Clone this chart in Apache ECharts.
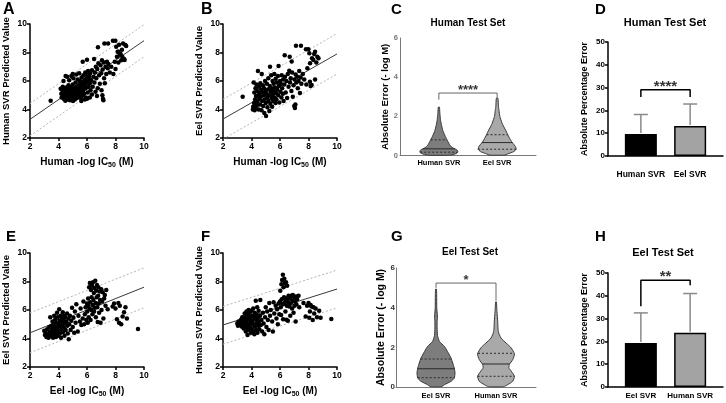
<!DOCTYPE html>
<html><head><meta charset="utf-8">
<script src="https://cdn.jsdelivr.net/npm/echarts@6/dist/echarts.min.js"></script>
<style>html,body{margin:0;padding:0;background:#fff}#c{width:726px;height:403px}</style>
</head><body><div id="c"></div>
<script>
const FF = '"Liberation Sans", Arial, sans-serif';

// ---------- scatter data ----------
const ptsA = [[3.45,4.62],[4.15,5.45],[4.2,5.1],[4.22,4.85],[4.28,5.3],[4.3,5.6],[4.33,4.95],[4.38,5.2],[4.4,4.72],[4.42,5.45],[4.45,5.05],[4.48,4.62],[4.5,5.3],[4.52,4.88],[4.55,5.55],[4.58,5.15],[4.6,4.7],[4.62,5.4],[4.65,4.95],[4.68,5.25],[4.7,5.7],[4.72,4.8],[4.75,5.1],[4.78,5.45],[4.8,4.65],[4.82,5.3],[4.85,4.95],[4.88,5.6],[4.9,5.15],[4.92,4.75],[4.95,5.4],[4.98,5.0],[5.0,5.75],[5.02,4.6],[5.05,5.25],[5.08,4.85],[5.1,5.5],[5.12,5.1],[5.15,4.7],[5.18,5.35],[5.2,5.9],[5.22,4.95],[5.25,5.6],[5.28,5.2],[5.3,4.8],[5.32,5.45],[5.35,6.1],[5.38,5.05],[5.4,5.7],[5.42,5.3],[5.45,4.9],[5.48,5.55],[5.5,6.0],[5.52,5.15],[5.55,5.8],[5.58,5.4],[5.6,4.75],[5.62,6.25],[5.65,5.6],[5.68,5.0],[5.7,5.9],[5.72,5.3],[5.75,6.4],[5.78,5.65],[5.8,5.1],[5.82,6.05],[5.85,5.45],[5.88,6.6],[5.9,5.8],[5.92,4.85],[5.95,6.2],[5.98,5.55],[6.0,6.45],[6.02,5.9],[6.05,5.2],[6.08,6.7],[6.1,6.1],[6.12,5.6],[6.15,6.3],[6.2,5.85],[6.22,6.55],[6.25,5.35],[6.3,6.05],[6.35,6.75],[6.4,5.6],[6.45,6.3],[6.5,7.55],[6.52,5.9],[6.55,6.6],[6.6,5.25],[6.62,7.0],[6.65,6.2],[6.7,4.95],[6.72,6.85],[6.75,5.5],[6.77,8.36],[6.8,7.25],[6.85,6.4],[6.9,5.8],[6.95,7.1],[7.0,6.55],[7.02,5.35],[7.05,7.45],[7.08,5.0],[7.1,6.8],[7.12,4.75],[7.15,4.65],[7.18,7.3],[7.2,6.2],[7.22,8.64],[7.25,5.85],[7.3,7.0],[7.35,6.5],[7.4,7.35],[7.45,6.9],[7.48,8.64],[7.5,7.2],[7.6,6.6],[7.7,7.0],[7.82,8.83],[7.85,6.5],[7.95,7.35],[7.99,8.83],[8.0,6.85],[8.05,8.4],[8.1,7.7],[8.15,8.05],[8.2,7.3],[8.22,8.06],[8.25,8.55],[8.3,7.85],[8.36,7.9],[8.4,7.45],[8.45,8.2],[8.48,7.71],[8.53,8.64],[8.6,7.55],[8.64,7.47],[8.69,8.53],[8.75,8.45],[4.35,6.0],[4.6,6.3],[4.75,6.05],[4.9,6.35],[5.05,6.2],[5.25,6.45],[5.45,6.55],[5.6,4.6],[5.85,4.7],[6.0,4.75],[6.2,4.85],[6.35,5.05],[4.5,6.35],[5.0,6.5],[5.7,7.35],[6.0,7.5]];
const ptsB = [[3.38,4.9],[4.1,4.0],[4.12,4.2],[4.15,5.9],[4.18,4.45],[4.2,5.2],[4.22,3.95],[4.25,4.7],[4.28,5.5],[4.3,4.1],[4.32,4.95],[4.35,5.75],[4.38,4.3],[4.4,5.3],[4.42,4.55],[4.45,6.7],[4.48,5.0],[4.5,4.0],[4.52,5.6],[4.55,4.75],[4.58,5.15],[4.6,4.35],[4.62,5.85],[4.65,4.9],[4.68,5.4],[4.7,3.95],[4.72,6.5],[4.75,4.6],[4.78,5.2],[4.8,5.7],[4.82,4.25],[4.85,5.0],[4.88,5.5],[4.9,3.75],[4.92,4.7],[4.95,6.0],[4.98,5.3],[5.0,4.45],[5.02,3.55],[5.05,5.1],[5.08,5.8],[5.1,4.85],[5.12,4.15],[5.15,5.4],[5.18,6.2],[5.2,4.6],[5.22,5.0],[5.25,3.9],[5.28,5.65],[5.3,7.0],[5.32,4.4],[5.35,5.25],[5.38,6.4],[5.4,4.8],[5.42,5.5],[5.45,4.2],[5.48,6.0],[5.5,5.05],[5.52,4.6],[5.55,5.8],[5.58,5.3],[5.6,6.5],[5.62,4.85],[5.65,5.55],[5.68,4.45],[5.7,6.15],[5.72,5.15],[5.75,4.7],[5.78,5.9],[5.8,5.4],[5.85,6.35],[5.88,5.0],[5.9,7.05],[5.92,5.65],[5.95,4.5],[6.0,6.0],[6.02,5.25],[6.05,5.8],[6.1,4.85],[6.12,6.4],[6.15,5.5],[6.2,5.1],[6.22,6.1],[6.25,4.6],[6.3,5.75],[6.33,7.8],[6.35,6.3],[6.4,5.2],[6.45,6.0],[6.5,4.8],[6.55,6.5],[6.6,5.6],[6.65,6.72],[6.68,7.7],[6.7,5.9],[6.75,6.2],[6.8,5.3],[6.82,7.36],[6.85,6.6],[6.9,4.9],[6.95,5.7],[7.0,4.25],[7.02,6.1],[7.05,4.1],[7.08,4.35],[7.1,6.45],[7.12,8.48],[7.15,5.9],[7.2,6.3],[7.25,5.5],[7.3,6.0],[7.35,6.7],[7.4,5.15],[7.45,6.25],[7.47,8.48],[7.5,5.8],[7.6,6.5],[7.7,6.1],[7.82,8.22],[7.85,5.75],[7.92,6.89],[7.99,8.22],[8.06,7.94],[8.1,5.95],[8.11,7.24],[8.15,5.65],[8.22,5.72],[8.25,7.6],[8.34,7.47],[8.4,7.9],[8.46,8.06],[8.46,6.1],[8.55,7.3],[8.62,7.71],[8.7,7.6]];
const ptsE = [[3.0,4.55],[3.05,4.25],[3.1,4.4],[3.15,4.1],[3.2,4.65],[3.25,4.3],[3.3,4.05],[3.35,4.8],[3.4,4.45],[3.42,5.5],[3.45,4.15],[3.5,4.9],[3.52,4.6],[3.55,4.3],[3.58,5.2],[3.6,4.75],[3.62,4.05],[3.65,5.0],[3.68,4.5],[3.7,5.6],[3.72,4.25],[3.75,4.85],[3.78,5.35],[3.8,4.6],[3.82,4.1],[3.85,5.1],[3.88,4.4],[3.9,5.8],[3.92,4.75],[3.95,5.5],[3.98,4.2],[4.0,5.0],[4.02,4.55],[4.05,6.05],[4.08,5.25],[4.1,4.35],[4.12,4.85],[4.15,5.6],[4.18,4.05],[4.2,5.15],[4.22,4.65],[4.25,5.45],[4.28,4.9],[4.3,5.85],[4.32,4.45],[4.35,5.3],[4.38,4.75],[4.4,5.6],[4.42,4.2],[4.45,5.05],[4.48,5.5],[4.5,4.6],[4.55,5.2],[4.6,5.75],[4.62,4.9],[4.65,4.35],[4.7,5.4],[4.72,3.95],[4.75,5.0],[4.8,5.6],[4.85,4.6],[4.9,5.25],[4.95,6.15],[5.0,4.8],[5.05,5.45],[5.1,4.4],[5.15,5.9],[5.2,5.1],[5.25,6.4],[5.35,4.5],[5.4,5.6],[5.5,5.2],[5.55,6.1],[5.6,4.95],[5.7,5.4],[5.75,6.6],[5.8,5.0],[5.85,5.7],[5.9,6.2],[5.95,5.3],[6.0,6.45],[6.02,5.9],[6.05,5.1],[6.08,6.8],[6.1,6.3],[6.12,5.5],[6.15,7.6],[6.18,6.1],[6.2,7.9],[6.22,6.55],[6.25,5.3],[6.28,7.4],[6.3,6.0],[6.32,6.9],[6.35,7.7],[6.38,5.7],[6.4,6.35],[6.42,7.95],[6.45,6.7],[6.48,7.2],[6.5,5.9],[6.52,7.55],[6.55,6.15],[6.58,8.05],[6.6,6.5],[6.62,5.5],[6.65,7.35],[6.68,6.9],[6.7,7.75],[6.72,6.2],[6.75,5.15],[6.78,7.0],[6.8,7.6],[6.82,6.45],[6.85,5.8],[6.9,7.3],[6.92,6.7],[6.95,5.1],[7.0,7.45],[7.02,6.0],[7.05,6.6],[7.1,7.25],[7.15,5.4],[7.2,6.8],[7.25,7.05],[7.3,6.3],[7.35,7.4],[7.45,6.05],[7.8,6.25],[7.9,6.45],[8.0,6.1],[8.1,5.35],[8.2,6.5],[8.25,5.1],[8.3,6.3],[8.4,5.0],[8.5,5.55],[8.6,5.85],[8.7,6.2],[8.8,5.4],[9.58,4.67]];
const ptsF = [[3.0,5.05],[3.05,4.9],[3.1,5.2],[3.2,5.0],[3.25,5.3],[3.3,4.85],[3.35,5.5],[3.4,5.1],[3.45,4.7],[3.5,5.35],[3.52,5.75],[3.55,4.95],[3.58,5.55],[3.6,4.5],[3.62,5.2],[3.65,5.9],[3.68,4.75],[3.7,5.4],[3.72,4.25],[3.75,5.65],[3.78,5.0],[3.8,6.0],[3.82,4.6],[3.85,5.3],[3.88,5.8],[3.9,4.85],[3.92,5.45],[3.95,4.4],[3.98,5.1],[4.0,5.95],[4.02,4.7],[4.05,5.6],[4.08,5.25],[4.1,4.5],[4.12,6.1],[4.15,5.0],[4.18,5.5],[4.2,4.3],[4.22,5.8],[4.25,4.85],[4.28,5.35],[4.3,6.65],[4.32,4.6],[4.35,5.7],[4.38,5.1],[4.4,6.2],[4.42,4.4],[4.45,5.45],[4.48,4.9],[4.5,5.95],[4.52,5.2],[4.55,4.65],[4.6,5.6],[4.62,6.7],[4.65,4.95],[4.7,5.3],[4.75,4.5],[4.8,5.8],[4.85,5.05],[4.9,4.3],[4.95,5.5],[5.0,6.2],[5.05,4.8],[5.1,5.9],[5.15,5.3],[5.2,4.6],[5.25,6.5],[5.3,5.6],[5.35,6.0],[5.45,5.2],[5.5,4.5],[5.55,6.55],[5.6,5.75],[5.7,6.3],[5.75,5.4],[5.8,6.05],[5.85,5.0],[5.9,6.45],[5.95,5.7],[6.0,6.6],[6.02,7.35],[6.05,6.2],[6.08,5.65],[6.1,7.8],[6.12,6.75],[6.15,8.1],[6.18,6.4],[6.2,8.48],[6.22,5.35],[6.25,7.6],[6.28,6.9],[6.3,8.2],[6.32,6.5],[6.35,7.9],[6.38,5.9],[6.4,6.7],[6.42,7.95],[6.45,5.32],[6.48,6.3],[6.5,7.7],[6.52,6.85],[6.55,5.25],[6.58,6.55],[6.6,7.0],[6.65,6.25],[6.7,6.8],[6.72,5.6],[6.75,6.45],[6.8,7.0],[6.85,6.1],[6.88,6.65],[6.9,7.05],[6.95,5.8],[7.0,6.9],[7.02,6.3],[7.05,6.6],[7.1,5.2],[7.12,6.95],[7.15,6.4],[7.2,6.75],[7.3,7.0],[7.35,6.2],[7.65,6.5],[7.8,5.55],[7.9,6.3],[8.0,6.5],[8.05,5.45],[8.1,5.9],[8.15,6.35],[8.2,6.25],[8.3,5.3],[8.35,6.2],[8.4,5.75],[8.5,6.1],[8.6,5.5],[8.75,5.95],[8.85,5.45],[9.6,5.37]];

// regression line and prediction band endpoints [x, y]
const fitA = [[2,3.31],[10,8.83]], upA = [[2,4.42],[10,9.95]], loA = [[2,2.15],[10,7.7]];
const fitB = [[2,3.33],[10,7.9]],  upB = [[2,4.71],[10,9.33]], loB = [[2,1.92],[10,6.49]];
const fitE = [[2,4.4],[10,7.6]],   upE = [[2,5.8],[10,8.95]],  loE = [[2,3.0],[10,6.15]];
const fitF = [[2,4.95],[10,7.47]], upF = [[2,6.25],[10,8.8]],  loF = [[2,3.6],[10,6.15]];

// ---------- violin data: [absolute error, relative density] ----------
const vC_human = [[0.01,0.45],[0.05,0.75],[0.12,0.95],[0.2,1.0],[0.29,0.95],[0.37,0.78],[0.45,0.65],[0.55,0.57],[0.7,0.48],[0.8,0.43],[0.97,0.34],[1.15,0.26],[1.3,0.2],[1.5,0.15],[1.65,0.12],[1.8,0.09],[2.0,0.07],[2.2,0.05],[2.47,0.03]];
const vC_eel = [[0.02,0.4],[0.08,0.55],[0.2,0.88],[0.32,1.0],[0.46,0.96],[0.63,0.82],[0.8,0.7],[1.06,0.56],[1.31,0.44],[1.5,0.33],[1.65,0.26],[2.0,0.14],[2.3,0.1],[2.5,0.07],[2.93,0.04]];
const vG_eel = [[0.02,0.3],[0.12,0.45],[0.29,0.8],[0.45,0.96],[0.7,1.0],[0.96,0.96],[1.21,0.88],[1.46,0.79],[1.8,0.6],[2.05,0.44],[2.3,0.18],[2.6,0.08],[2.98,0.06],[3.3,0.06],[3.5,0.08],[3.65,0.07],[4.0,0.04],[4.65,0.035],[4.94,0.02]];
const vG_human = [[0.02,0.4],[0.12,0.62],[0.29,0.88],[0.54,0.97],[0.8,0.8],[0.96,0.68],[1.13,0.7],[1.38,0.88],[1.66,0.97],[1.97,0.8],[2.22,0.53],[2.47,0.26],[2.8,0.12],[3.31,0.09],[3.82,0.05],[4.29,0.02]];
// quartiles [Q1, median, Q3]
const qC_human = [0.17,0.34,0.8], qC_eel = [0.32,0.66,1.06];
const qG_eel = [0.47,0.92,1.41],  qG_human = [0.54,1.16,1.7];

// ---------- bar data ----------
const catsD = ['Human SVR','Eel SVR'];
const meanD = [9.7, 13.2], upperD = [18.2, 22.8];
const catsH = ['Eel SVR','Human SVR'];
const meanH = [19.3, 23.8], upperH = [32.5, 41.0];
const catsC = ['Human SVR','Eel SVR'];
const catsG = ['Eel SVR','Human SVR'];
const slots = [2, 5]; // category slot positions on a 0..7 axis

// significance brackets [x, y]
const brC = [[2,2.85],[2,3.19],[5,3.19],[5,2.95]], starC = '****', starCy = 3.3;
const brG = [[2,5.0],[2,5.24],[5,5.24],[5,4.35]], starG = '*', starGy = 5.38;
const brD = [[2,25.9],[2,29.1],[5,29.1],[5,25.9]], starD = '****', starDy = 30.4;
const brH = [[2,35.4],[2,46.8],[5,46.8],[5,44.6]], starH = '**', starHy = 48.2;

// ---------- layout ----------
const grids = [
  {left:30, top:24, width:114, height:114},   // A
  {left:223, top:24, width:114, height:114},  // B
  {left:400, top:38, width:136, height:117.5},// C
  {left:608, top:42, width:115, height:114},  // D
  {left:30, top:253, width:114, height:114},  // E
  {left:223, top:253, width:114, height:114}, // F
  {left:396, top:268, width:140, height:119}, // G
  {left:608, top:273, width:115, height:114}  // H
];

function subName(a, b){ return '{a|' + a + '}{s|50}{a|' + b + '}'; }
const nameRich = {
  a:{fontFamily:FF, fontWeight:'bold', fontSize:10, color:'#000'},
  s:{fontFamily:FF, fontWeight:'bold', fontSize:7, color:'#000', padding:[6,0,0,0]}
};
function scX(gi, name){
  return {gridIndex:gi, type:'value', min:2, max:10, interval:2, name:name, nameLocation:'middle', nameGap:18,
    nameTextStyle:{rich:nameRich},
    axisLine:{show:true, onZero:false, lineStyle:{color:'#000', width:1.5}},
    axisTick:{show:true, length:3, lineStyle:{color:'#000', width:1.5}},
    axisLabel:{color:'#000', fontWeight:'bold', fontSize:8.5, fontFamily:FF, margin:4},
    splitLine:{show:false}};
}
function scY(gi, name){
  return {gridIndex:gi, type:'value', min:2, max:10, interval:2, name:name, nameLocation:'middle', nameGap:18.5,
    nameTextStyle:{fontFamily:FF, fontWeight:'bold', fontSize:9.5, color:'#000'},
    axisLine:{show:true, onZero:false, lineStyle:{color:'#000', width:1.5}},
    axisTick:{show:true, length:3, lineStyle:{color:'#000', width:1.5}},
    axisLabel:{color:'#000', fontWeight:'bold', fontSize:8.5, fontFamily:FF, margin:3},
    splitLine:{show:false}};
}
function catX(gi, cats, opts){
  return {gridIndex:gi, type:'value', min:0, max:7, interval:1,
    axisLine:{show:true, onZero:false, lineStyle:{color:opts.line, width:opts.lw}},
    axisTick:{show:false},
    axisLabel:{color:'#000', fontWeight:'bold', fontSize:opts.fs, fontFamily:FF, margin:opts.margin,
      formatter:function(v){ const k = slots.indexOf(v); return k >= 0 ? cats[k] : ''; }},
    splitLine:{show:false}};
}
function valY(gi, max, interval, name, opts){
  return {gridIndex:gi, type:'value', min:0, max:max, interval:interval, name:name, nameLocation:'middle', nameGap:opts.gap,
    nameTextStyle:{fontFamily:FF, fontWeight:'bold', fontSize:opts.nfs, color:'#000'},
    axisLine:{show:true, onZero:false, lineStyle:{color:opts.line, width:opts.lw}},
    axisTick:{show:opts.tick, length:3, lineStyle:{color:opts.line, width:opts.lw}},
    axisLabel:{color:opts.lc, fontWeight:'bold', fontSize:opts.fs, fontFamily:FF, margin:opts.margin},
    splitLine:{show:false}};
}

const xAxes = [
  scX(0, subName('Human -log IC',' (M)')),
  scX(1, subName('Human -log IC',' (M)')),
  catX(2, catsC, {line:'#777', lw:1, fs:7.5, margin:3}),
  catX(3, catsD, {line:'#000', lw:1.5, fs:8.5, margin:14}),
  scX(4, subName('Eel -log IC',' (M)')),
  scX(5, subName('Eel -log IC',' (M)')),
  catX(6, catsG, {line:'#777', lw:1, fs:7.5, margin:5}),
  catX(7, catsH, {line:'#000', lw:1.5, fs:8, margin:5})
];
const yAxes = [
  scY(0, 'Human SVR Predicted Value'),
  scY(1, 'Eel SVR Predicted Value'),
  valY(2, 6, 2, 'Absolute Error (- log M)', {gap:5, nfs:9.5, line:'#777', lw:1, tick:false, lc:'#777', fs:7.5, margin:2}),
  valY(3, 50, 10, 'Absolute Percentage Error', {gap:19, nfs:9, line:'#000', lw:1.5, tick:true, lc:'#000', fs:8, margin:3}),
  scY(4, 'Eel SVR Predicted Value'),
  scY(5, 'Human SVR Predicted Value'),
  valY(6, 6, 2, 'Absolute Error (- log M)', {gap:3.5, nfs:10.5, line:'#777', lw:1, tick:false, lc:'#333', fs:8, margin:1}),
  valY(7, 50, 10, 'Absolute Percentage Error', {gap:19, nfs:9, line:'#000', lw:1.5, tick:true, lc:'#000', fs:8, margin:3})
];

const series = [];
function addScatterPanel(gi, pts, fit, up, lo){
  [up, lo].forEach(function(d){
    series.push({type:'line', xAxisIndex:gi, yAxisIndex:gi, data:d, symbol:'none', silent:true,
      lineStyle:{color:'#b5b5b5', width:1, type:[2,2]}, z:1});
  });
  series.push({type:'line', xAxisIndex:gi, yAxisIndex:gi, data:fit, symbol:'none', silent:true,
    lineStyle:{color:'#3a3a3a', width:1}, z:1});
  series.push({type:'scatter', xAxisIndex:gi, yAxisIndex:gi, data:pts, symbolSize:4.5,
    itemStyle:{color:'#000', opacity:1}, z:3});
}
addScatterPanel(0, ptsA, fitA, upA, loA);
addScatterPanel(1, ptsB, fitB, upB, loB);
addScatterPanel(4, ptsE, fitE, upE, loE);
addScatterPanel(5, ptsF, fitF, upF, loF);

function interp(prof, y){
  for (let i = 0; i < prof.length - 1; i++){
    if (y >= prof[i][0] && y <= prof[i+1][0]){
      const t = (y - prof[i][0]) / (prof[i+1][0] - prof[i][0]);
      return prof[i][1] + t * (prof[i+1][1] - prof[i][1]);
    }
  }
  return prof[0][1];
}
function addViolins(gi, items, half){
  series.push({type:'custom', xAxisIndex:gi, yAxisIndex:gi, silent:true,
    data: items.map(function(it, i){ return [it.x, 0]; }),
    encode:{x:0, y:1},
    renderItem:function(params, api){
      const it = items[params.dataIndex];
      const cx = api.coord([it.x, 0])[0];
      const right = [], left = [];
      it.prof.forEach(function(p){
        const py = api.coord([it.x, p[0]])[1];
        right.push([cx + p[1]*half, py]);
        left.unshift([cx - p[1]*half, py]);
      });
      const children = [{type:'polygon', shape:{points:right.concat(left), smooth:0.2},
        style:{fill:it.color, stroke:'#3a3a3a', lineWidth:1}}];
      it.q.forEach(function(q, k){
        const w = interp(it.prof, q) * half;
        const py = api.coord([it.x, q])[1];
        children.push({type:'line', shape:{x1:cx-w, y1:py, x2:cx+w, y2:py},
          style:{stroke:'#2a2a2a', lineWidth:1, lineDash: k === 1 ? null : [2,2]}});
      });
      return {type:'group', children:children};
    }});
}
addViolins(2, [{x:slots[0], prof:vC_human, q:qC_human, color:'#7d7d7d'},
               {x:slots[1], prof:vC_eel, q:qC_eel, color:'#a9a9a9'}], 19);
addViolins(6, [{x:slots[0], prof:vG_eel, q:qG_eel, color:'#7d7d7d'},
               {x:slots[1], prof:vG_human, q:qG_human, color:'#a9a9a9'}], 19);

function addBars(gi, mean, upper){
  series.push({type:'bar', xAxisIndex:gi, yAxisIndex:gi, barWidth:32,
    data: mean.map(function(m, i){ return {value:[slots[i], m],
      itemStyle:{color: i === 0 ? '#000' : '#a3a3a3', borderColor:'#000', borderWidth:1.5}}; }), z:2});
  series.push({type:'custom', xAxisIndex:gi, yAxisIndex:gi, silent:true, z:3,
    data: mean.map(function(m, i){ return [slots[i], m, upper[i]]; }),
    encode:{x:0, y:[1,2]},
    renderItem:function(params, api){
      const p0 = api.coord([api.value(0), api.value(1)]);
      const p1 = api.coord([api.value(0), api.value(2)]);
      const st = {stroke:'#8a8a8a', lineWidth:1.5};
      return {type:'group', children:[
        {type:'line', shape:{x1:p0[0], y1:p0[1]-1, x2:p1[0], y2:p1[1]}, style:st},
        {type:'line', shape:{x1:p1[0]-7, y1:p1[1], x2:p1[0]+7, y2:p1[1]}, style:st}]};
    }});
}
addBars(3, meanD, upperD);
addBars(7, meanH, upperH);

function addBracket(gi, br, star, sy, color, lw, fs){
  series.push({type:'line', xAxisIndex:gi, yAxisIndex:gi, data:br, symbol:'none', silent:true,
    lineStyle:{color:color, width:lw}, z:4});
  series.push({type:'scatter', xAxisIndex:gi, yAxisIndex:gi, data:[[3.5, sy]], symbolSize:1, silent:true,
    itemStyle:{color:'rgba(0,0,0,0)'},
    label:{show:true, position:'inside', formatter:star, color:'#000', fontWeight:'bold', fontSize:fs, fontFamily:FF}, z:5});
}
addBracket(2, brC, starC, starCy, '#666', 1, 13);
addBracket(6, brG, starG, starGy, '#666', 1, 13);
addBracket(3, brD, starD, starDy, '#000', 1.5, 15);
addBracket(7, brH, starH, starHy, '#000', 1.5, 15);

function txt(s, x, y, size, align){
  return {type:'text', x:x, y:y, silent:true,
    style:{text:s, fill:'#000', font:'bold ' + size + 'px ' + FF, align:align || 'left', verticalAlign:'middle',
      textAlign:align || 'left', textVerticalAlign:'middle'}};
}
const graphic = [
  txt('A', 3, 10, 16), txt('B', 201, 10, 16), txt('C', 391, 10, 15), txt('D', 595, 10, 15),
  txt('E', 6, 237, 15), txt('F', 201, 237, 15), txt('G', 391, 237, 15), txt('H', 595, 237, 15),
  txt('Human Test Set', 468, 23, 10, 'center'), txt('Human Test Set', 665, 23, 11, 'center'),
  txt('Eel Test Set', 470, 252.5, 10, 'center'), txt('Eel Test Set', 663, 252.5, 11, 'center')
];

const chart = echarts.init(document.getElementById('c'), null, {renderer:'canvas'});
chart.setOption({
  animation:false,
  backgroundColor:'#fff',
  grid:grids,
  xAxis:xAxes,
  yAxis:yAxes,
  series:series,
  graphic:graphic
});
</script>
</body></html>
